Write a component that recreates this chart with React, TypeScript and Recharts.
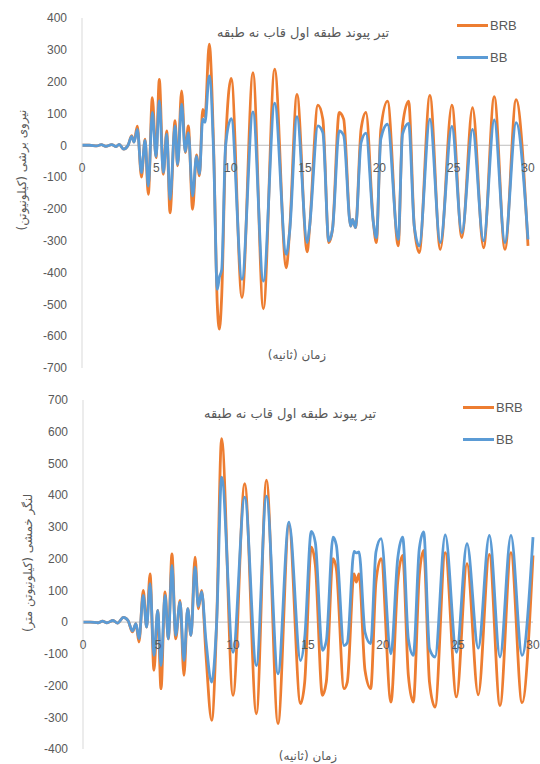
import React from 'react';
import { LineChart, Line, XAxis, YAxis, ReferenceLine } from 'recharts';

const ORANGE = '#ED7D31';
const BLUE = '#5B9BD5';
const TEXT = '#595959';

const seriesNames = ['BRB', 'BB'];
const chartTitle = 'تیر پیوند طبقه اول قاب نه طبقه';
const xTitle = 'زمان (ثانیه)';
const topYTitle = 'نیروی برشی (کیلونیوتن)';
const bottomYTitle = 'لنگر خمشی (کیلونیوتن متر)';

const xTicks = [0, 5, 10, 15, 20, 25, 30];
const topYTicks = [400, 300, 200, 100, 0, -100, -200, -300, -400, -500, -600, -700];
const bottomYTicks = [700, 600, 500, 400, 300, 200, 100, 0, -100, -200, -300, -400];

// Top chart: shear force (kN)
const topTime = [0, 0.5, 1.0, 1.3, 1.6, 2.0, 2.3, 2.5, 2.8, 3.1, 3.34, 3.5, 3.72, 4.0, 4.24, 4.46, 4.73, 4.98, 5.2, 5.47, 5.7, 5.92, 6.26, 6.43, 6.7, 6.95, 7.15, 7.44, 7.7, 7.9, 8.12, 8.27, 8.56, 8.85, 9.1, 9.24, 9.4, 9.66, 10.04, 10.76, 11.5, 12.2, 12.96, 13.74, 13.97, 14.46, 15.15, 15.3, 15.87, 16.2, 16.6, 16.85, 17.3, 17.6, 18.07, 18.2, 18.4, 18.77, 19.1, 19.6, 19.8, 20.1, 20.55, 21.27, 21.56, 21.97, 22.35, 22.68, 23.4, 24.1, 24.88, 25.55, 26.27, 27.01, 27.73, 28.45, 29.2, 30];
const topBRB = [0, 0, -2, 2, -3, 2, -4, 3, -12, 0, 30, 10, 60, -100, 19, -154, 150, -39, 207, -91, 45, -212, 77, -65, 171, -23, 61, -201, -30, -96, 113, 90, 318, 0, -500, -578, -470, 0, 210, -479, 228, -514, 239, -385, -264, 160, -335, -264, 126, 82, -306, -264, 103, 82, -254, -233, -259, 50, 103, -243, -306, 50, 139, -316, 61, 139, -254, -337, 157, -327, 126, -290, 118, -322, 153, -327, 143, -316];
const topBB = [0, 0, -2, 2, -3, 2, -4, 3, -12, 0, 28, 10, 50, -86, 15, -128, 103, -35, 140, -85, 35, -170, 61, -60, 129, -20, 40, -159, -35, -90, 82, 72, 218, -20, -453, -415, -390, 0, 84, -421, 105, -427, 132, -343, -270, 90, -306, -260, 61, 40, -300, -264, 45, 31, -254, -233, -259, 8, 38, -243, -290, 20, 66, -296, 35, 69, -254, -316, 82, -306, 59, -275, 50, -300, 80, -306, 71, -296];

// Bottom chart: bending moment (kN.m)
const bottomTime = [0, 0.5, 1.0, 1.3, 1.6, 2.0, 2.3, 2.7, 3.0, 3.3, 3.53, 3.73, 4.02, 4.24, 4.47, 4.73, 4.98, 5.2, 5.47, 5.69, 5.93, 6.18, 6.47, 6.73, 6.98, 7.2, 7.47, 7.69, 7.91, 8.2, 8.58, 8.91, 9.24, 10.0, 10.78, 11.56, 12.23, 13.0, 13.73, 14.5, 14.78, 15.22, 15.49, 15.96, 16.22, 16.67, 16.89, 17.4, 17.62, 18.07, 18.22, 18.4, 18.8, 19.18, 19.53, 19.87, 20.53, 20.98, 21.31, 21.69, 22.02, 22.42, 22.71, 23.1, 23.47, 24.15, 24.9, 25.6, 26.35, 27.09, 27.8, 28.53, 29.27, 30];
const bottomBRB = [0, 0, -2, 3, -2, 5, -3, 15, 5, -31, -5, -63, 100, -16, 152, -152, 37, -210, 95, -53, 215, -53, 68, -168, 42, -42, 205, 42, 100, -105, -310, 0, 578, -231, 436, -289, 447, -320, 305, -257, -189, 236, 179, -231, -189, 200, 168, -210, -189, 152, 126, 152, -152, -210, 126, 200, -252, 126, 210, -168, -252, 147, 226, -189, -268, 219, -236, 184, -229, 213, -263, 219, -254, 210];
const bottomBB = [0, 0, -2, 3, -2, 5, -3, 15, 5, -28, -5, -52, 84, -16, 121, -105, 37, -137, 84, -53, 179, -42, 63, -121, 42, -42, 173, 50, 95, -60, -189, 0, 457, -95, 394, -137, 397, -163, 315, -121, -50, 286, 250, -89, -60, 268, 242, -74, -65, 223, 218, 221, -32, -68, 221, 263, -100, 200, 268, -53, -105, 231, 284, -84, -110, 275, -95, 247, -82, 273, -110, 273, -105, 268];

const buildRows = (t: number[], a: number[], b: number[]) =>
  t.map((time, i) => ({ t: time, BRB: a[i], BB: b[i] }));

const topData = buildRows(topTime, topBRB, topBB);
const bottomData = buildRows(bottomTime, bottomBRB, bottomBB);

const makeXTick = (lift: number) => (props: any) => {
  const { x, y, payload } = props;
  return (
    <text x={x} y={y - lift} dy="0.71em" textAnchor="middle" fill={TEXT} fontSize={12} fontFamily="Liberation Sans, Arial, sans-serif">
      {payload.value}
    </text>
  );
};

type PanelProps = {
  top: number;
  height: number;
  data: any[];
  yTicks: number[];
  marginTop: number;
  marginRight: number;
  xHeight: number;
  yWidth: number;
};

const Panel = ({ top, height, data, yTicks, marginTop, marginRight, xHeight, yWidth }: PanelProps) => {
  const yMin = Math.min(...yTicks);
  const yMax = Math.max(...yTicks);
  const plotH = height - marginTop - xHeight;
  const lift = (plotH * (0 - yMin)) / (yMax - yMin) - 18;
  return (
    <div style={{ position: 'absolute', left: 0, top, width: 540, height }}>
      <LineChart width={540} height={height} data={data} margin={{ top: marginTop, right: marginRight, bottom: 0, left: 0 }}>
        <XAxis
          dataKey="t"
          type="number"
          domain={[0, 30]}
          ticks={xTicks}
          interval={0}
          axisLine={false}
          tickLine={false}
          tickSize={0}
          tickMargin={0}
          height={xHeight}
          tick={makeXTick(lift)}
        />
        <YAxis
          type="number"
          domain={[yMin, yMax]}
          ticks={yTicks}
          interval={0}
          width={yWidth}
          axisLine={{ stroke: '#d9d9d9' }}
          tickLine={false}
          tickSize={0}
          tickMargin={15}
          tick={{ fill: TEXT, fontSize: 12, fontFamily: 'Liberation Sans, Arial, sans-serif' }}
        />
        <ReferenceLine y={0} stroke="#bfbfbf" strokeWidth={1} />
        <Line type="monotone" dataKey="BRB" stroke={ORANGE} strokeWidth={2.8} dot={false} isAnimationActive={false} />
        <Line type="monotone" dataKey="BB" stroke={BLUE} strokeWidth={2.8} dot={false} isAnimationActive={false} />
      </LineChart>
    </div>
  );
};

const persian: React.CSSProperties = {
  position: 'absolute',
  fontFamily: '"DejaVu Sans", sans-serif',
  color: TEXT,
  whiteSpace: 'nowrap',
  direction: 'rtl',
  transform: 'translate(-50%, -50%)',
  lineHeight: 1,
};

const Legend = ({ left, top }: { left: number; top: number }) => (
  <>
    {seriesNames.map((name, i) => (
      <div key={name} style={{ position: 'absolute', left, top: top + i * 32, display: 'flex', alignItems: 'center', height: 14, transform: 'translateY(-50%)' }}>
        <div style={{ width: 31, height: 3, background: i === 0 ? ORANGE : BLUE }} />
        <span style={{ marginLeft: 2, fontSize: 13, color: TEXT, fontFamily: 'Liberation Sans, Arial, sans-serif' }}>{name}</span>
      </div>
    ))}
  </>
);

export default function App() {
  return (
    <div style={{ position: 'absolute', left: 0, top: 0, width: 540, height: 764, background: '#fff', overflow: 'hidden' }}>
      <Panel top={0} height={380} data={topData} yTicks={topYTicks} marginTop={18} marginRight={12} xHeight={12} yWidth={82} />
      <Panel top={382} height={382} data={bottomData} yTicks={bottomYTicks} marginTop={18} marginRight={7} xHeight={15} yWidth={83} />

      <div style={{ ...persian, left: 303, top: 32, fontSize: 13 }}>{chartTitle}</div>
      <div style={{ ...persian, left: 290, top: 413, fontSize: 13 }}>{chartTitle}</div>

      <Legend left={457} top={25} />
      <Legend left={463} top={407} />

      <div style={{ ...persian, left: 22, top: 170, fontSize: 12, transform: 'translate(-50%, -50%) rotate(-90deg)' }}>{topYTitle}</div>
      <div style={{ ...persian, left: 28, top: 563, fontSize: 12, transform: 'translate(-50%, -50%) rotate(-90deg)' }}>{bottomYTitle}</div>

      <div style={{ ...persian, left: 297, top: 355, fontSize: 12 }}>{xTitle}</div>
      <div style={{ ...persian, left: 308, top: 756, fontSize: 12 }}>{xTitle}</div>
    </div>
  );
}
